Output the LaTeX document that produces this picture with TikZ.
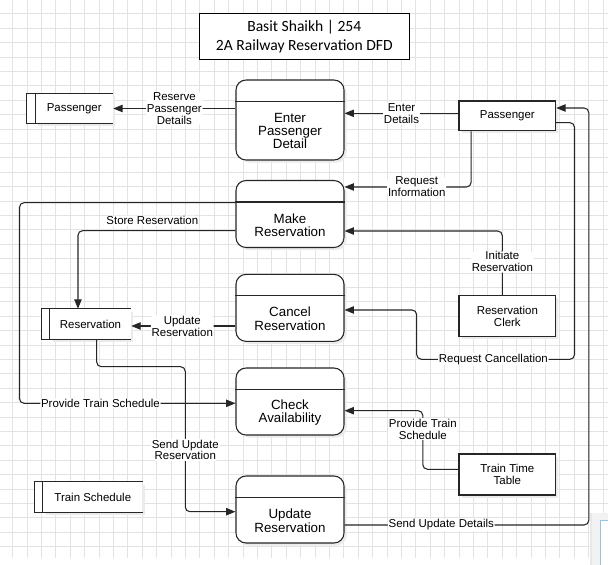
\documentclass[tikz,border=0pt]{standalone}
\usepackage{fontspec}
\setmainfont{Liberation Sans}
\newfontfamily\ttlfont{Carlito}
\usetikzlibrary{arrows.meta,calc}
\newcommand\lblfont{\fontsize{8.6}{8.9}\selectfont}
\newcommand\procfont{\fontsize{10}{10.1}\selectfont}
\begin{document}
\begin{tikzpicture}[x=0.75pt,y=-0.75pt,
  line width=0.8pt,
  gridline/.style={draw=black!11,line width=0.75pt},
  shadowfill/.style={fill=black!8,draw=none},
  proc/.style={draw=black!85, rounded corners=7.5pt, fill=white, minimum width=81pt, inner sep=0pt},
  ent/.style={draw=black!85, fill=white, minimum width=72.5pt, inner sep=0pt, align=center, font=\lblfont},
  store/.style={fill=white, inner sep=0pt, minimum height=22.3pt, font=\lblfont},
  flow/.style={draw=black!85, rounded corners=3.5pt, -{Triangle[length=7pt,width=5.5pt]}},
  lbl/.style={fill=white, inner sep=0.6pt, align=center, font=\lblfont},
  ptext/.style={font=\procfont, align=center, yshift=-8.25pt}
]
\useasboundingbox (0,0) rectangle (608,565);
\fill[white] (0,0) rectangle (608,565);
% grid
\foreach \i in {0,...,41} \draw[gridline] ({12.7+14.4*\i},0) -- ({12.7+14.4*\i},558);
\foreach \i in {0,...,37} \draw[gridline] (0,{13.9+14.4*\i}) -- (608,{13.9+14.4*\i});
% corner panel
\fill[black!5] (589.5,513.3) rectangle (608,565);
\fill[black!9] (589.5,513.3) rectangle (592,565);
\fill[white] (600,520) rectangle (608,565);
\draw[draw={rgb,255:red,150;green,195;blue,225},line width=0.75pt] (600.3,565) -- (600.3,520.3) -- (608,520.3);

% soft shadows (drawn beneath the shapes)
\foreach \cy/\h in {120/80,214/67,307.85/67,401.5/67,509.5/67}
  \fill[shadowfill,rounded corners=7.5pt] (238.5,{\cy-\h/2+2.5}) rectangle (346.5,{\cy+\h/2+2.5});
\foreach \cy/\h in {115.85/29.7,316.2/41,474.5/41}
  \fill[shadowfill] (461.5,{\cy-\h/2+2.5}) rectangle (558.2,{\cy+\h/2+2.5});
\fill[shadowfill] (38.2,96.2) rectangle (115.2,125.8);
\fill[shadowfill] (52.8,311.8) rectangle (133.2,341.5);
\fill[shadowfill] (45.8,484.8) rectangle (144.8,514.5);

% title
\node[draw, fill=white, minimum width=157.5pt, minimum height=34.5pt, inner sep=0pt, align=center,
      font=\ttlfont\fontsize{11.7}{14.25}\selectfont] (title) at (304.3,36.3)
      {Basit Shaikh | 254\\2A Railway Reservation DFD};

% processes
\node[proc, minimum height=60pt, label={[ptext]center:{Enter\\Passenger\\Detail}}] (epd) at (290,120) {};
\node[proc, minimum height=50.25pt, label={[ptext]center:{Make\\Reservation}}] (mr) at (290,214) {};
\node[proc, minimum height=50.25pt, label={[ptext]center:{Cancel\\Reservation}}] (cr) at (290,307.85) {};
\node[proc, minimum height=50.25pt, label={[ptext]center:{Check\\Availability}}] (ca) at (290,401.5) {};
\node[proc, minimum height=50.25pt, label={[ptext]center:{Update\\Reservation}}] (ur) at (290,509.5) {};
\foreach \n in {epd,mr,cr,ca,ur}
  \draw[black!85] ([yshift=-16.5pt]\n.north west) -- ([yshift=-16.5pt]\n.north east);

% external entities
\node[ent, minimum height=22.3pt] (pas) at (507.35,115.85) {Passenger};
\node[ent, minimum height=30.75pt] (clerk) at (507.35,316.2) {Reservation\\Clerk};
\node[ent, minimum height=30.75pt] (ttt) at (507.35,474.5) {Train Time\\Table};

% data stores
\node[store, minimum width=57.75pt] (dpas) at (74.2,108.5) {Passenger};
\node[store, minimum width=60.3pt] (dres) at (90.5,324.15) {Reservation};
\node[store, minimum width=74.25pt] (dts) at (92.8,497.15) {Train Schedule};
\foreach \n in {dpas,dres,dts}{
  \fill[white] ([xshift=-6.45pt]\n.north west) rectangle (\n.south west);
  \draw[black!85] ([xshift=-6.45pt]\n.north west) -- (\n.north east)
        ([xshift=-6.45pt]\n.south west) -- (\n.south east)
        ([xshift=-6.45pt]\n.north west) -- ([xshift=-6.45pt]\n.south west)
        (\n.north west) -- (\n.south west);
}

% flows
\draw[flow] (epd.west |- dpas.east) -- node[lbl]{Reserve\\Passenger\\Details} (dpas.east);
\path ([yshift=1.9pt]pas.west) coordinate (p1);
\draw[flow] (p1) -- node[lbl]{Enter\\Details} (p1 -| epd.east);
\draw[flow] ([xshift=9.5pt]pas.south west) |- node[lbl,pos=0.715]{Request\\Information} ([yshift=-5.25pt]mr.north east);
\draw[flow] ([xshift=-3.75pt]clerk.north) |- node[lbl,pos=0.26]{Initiate\\Reservation} ([yshift=-12.75pt]mr.east);
\draw[flow] ([yshift=-5.1pt]pas.east) -- ++(18.3,0) |- node[lbl,pos=0.757]{Request Cancellation} (416.7,359.3) |- ([yshift=-1.6pt]cr.east);
\draw[flow] ([yshift=-11.6pt]ur.east) -- node[lbl,pos=0.396]{Send Update Details} ++(244.3,0) |- ([yshift=5.9pt]pas.east);
\draw[flow] ([yshift=-12.5pt]mr.west) -| node[lbl,pos=0.264,yshift=7.5pt]{Store Reservation} ([xshift=-9.4pt]dres.north);
\path ([yshift=-13.6pt]cr.west) coordinate (c1);
\draw[flow] (c1) -- node[lbl,pos=0.51]{Update\\Reservation} (c1 -| dres.east);
\draw[flow] ([yshift=8.5pt]mr.west) -- ++(-216,0) |- node[lbl,pos=0.6875]{Provide Train Schedule} ([yshift=-1.35pt]ca.west);
\draw[flow] ([xshift=4.65pt]dres.south) |- (185.3,366.7) |- node[lbl,pos=0.287]{Send Update\\Reservation} ([yshift=-1.65pt]ur.west);
\draw[flow] ([yshift=3.9pt]ttt.west) -- ++(-35.7,0) |- node[lbl,pos=0.344]{Provide Train\\Schedule} ([yshift=-6.9pt]ca.east);
\end{tikzpicture}
\end{document}
